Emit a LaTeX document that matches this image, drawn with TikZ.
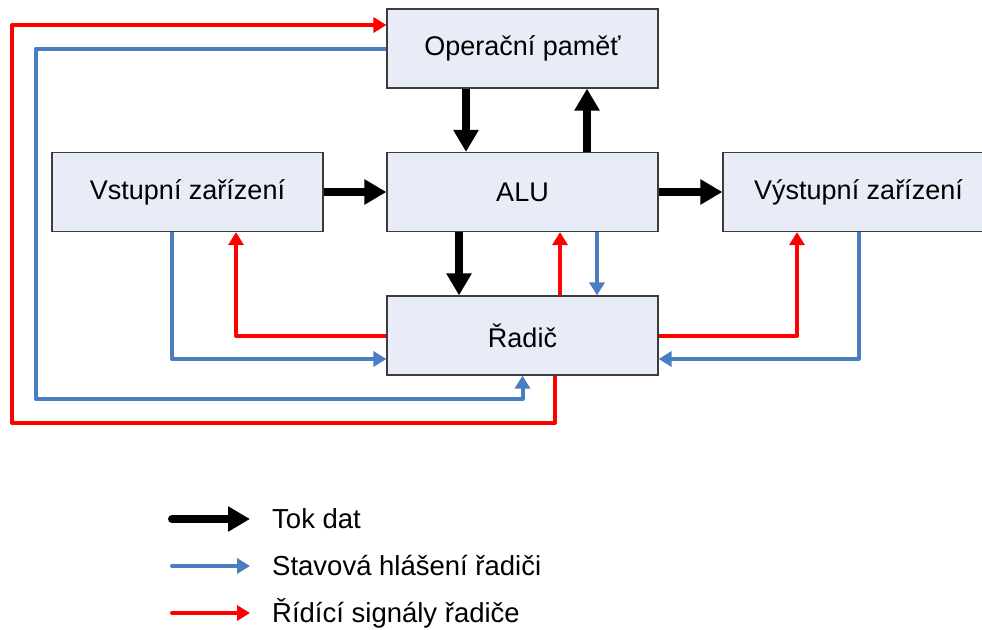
\documentclass[tikz,border=0pt]{standalone}
\usepackage{fontspec}
\setmainfont{Liberation Sans}
\usetikzlibrary{arrows.meta}
\definecolor{boxfill}{RGB}{232,236,246}
\definecolor{boxline}{RGB}{60,60,60}
\definecolor{statblue}{RGB}{74,126,193}
\definecolor{ctrlred}{RGB}{255,0,0}
\tikzset{
  unit/.style={draw=boxline, line width=1.2pt, fill=boxfill, minimum width=271pt,
    minimum height=79pt, inner sep=0pt, font=\fontsize{27}{31}\selectfont},
  data/.style={line width=8pt, black,
    -{Triangle[width=24pt,length=22pt]}},
  stat/.style={line width=4pt, line join=round, statblue,
    -{Triangle[width=15pt,length=13pt]}},
  ctrl/.style={line width=4pt, line join=round, ctrlred,
    -{Triangle[width=15pt,length=13pt]}},
  legtext/.style={anchor=west, inner sep=0pt, font=\fontsize{27.5}{32}\selectfont}
}
\begin{document}
\begin{tikzpicture}[x=1pt,y=-1pt]
\useasboundingbox (0,0) rectangle (982,629);
\begin{scope}
\clip (0,0) rectangle (982,629);

% functional units
\node[unit] (op)  at (522.5,48.5) {Operační paměť};
\node[unit] (alu) at (522.5,192)  {ALU};
\node[unit] (vst) at (187.5,192)  {Vstupní zařízení};
\node[unit] (vys) at (858.5,192)  {Výstupní zařízení};
\node[unit] (rad) at (522.5,335.5) {Řadič};

% corners of the outer loops
\coordinate (sw1) at (36,399);
\coordinate (sw2) at (12,423);

% data flow
\draw[data] ([xshift=-56.5pt]op.south) -- ([xshift=-56.5pt]alu.north);
\draw[data] ([xshift=64.5pt]alu.north) -- ([xshift=64.5pt]op.south);
\draw[data] ([xshift=-63.5pt]alu.south) -- ([xshift=-63.5pt]rad.north);
\draw[data] (vst.east) -- (alu.west);
\draw[data] (alu.east) -- (vys.west);

% status reports to the control unit
\draw[stat] ([xshift=74.5pt]alu.south) -- ([xshift=74.5pt]rad.north);
\draw[stat] ([xshift=-15.5pt]vst.south) |- ([yshift=-23.5pt]rad.west);
\draw[stat] (vys.south) |- ([yshift=-23.5pt]rad.east);
\draw[stat] (op.west) -| (sw1) -| (rad.south);

% control signals of the control unit
\draw[ctrl] ([xshift=37.5pt]rad.north) -- ([xshift=37.5pt]alu.south);
\draw[ctrl] (rad.west) -| ([xshift=48.5pt]vst.south);
\draw[ctrl] (rad.east) -| ([xshift=-61.5pt]vys.south);
\draw[ctrl] ([xshift=32.5pt]rad.south) |- (sw2) |- ([yshift=23.5pt]op.west);

% legend
\node[legtext] (l1) at (272,519) {Tok dat};
\node[legtext] (l2) at (272,566) {Stavová hlášení řadiči};
\node[legtext] (l3) at (272,613) {Řídící signály řadiče};
\draw[data, line cap=round] ([xshift=-100pt]l1.west) -- ([xshift=-22pt]l1.west);
\draw[stat, line cap=round] ([xshift=-100pt]l2.west) -- ([xshift=-22pt]l2.west);
\draw[ctrl, line cap=round] ([xshift=-100pt]l3.west) -- ([xshift=-22pt]l3.west);
\end{scope}
\end{tikzpicture}
\end{document}
